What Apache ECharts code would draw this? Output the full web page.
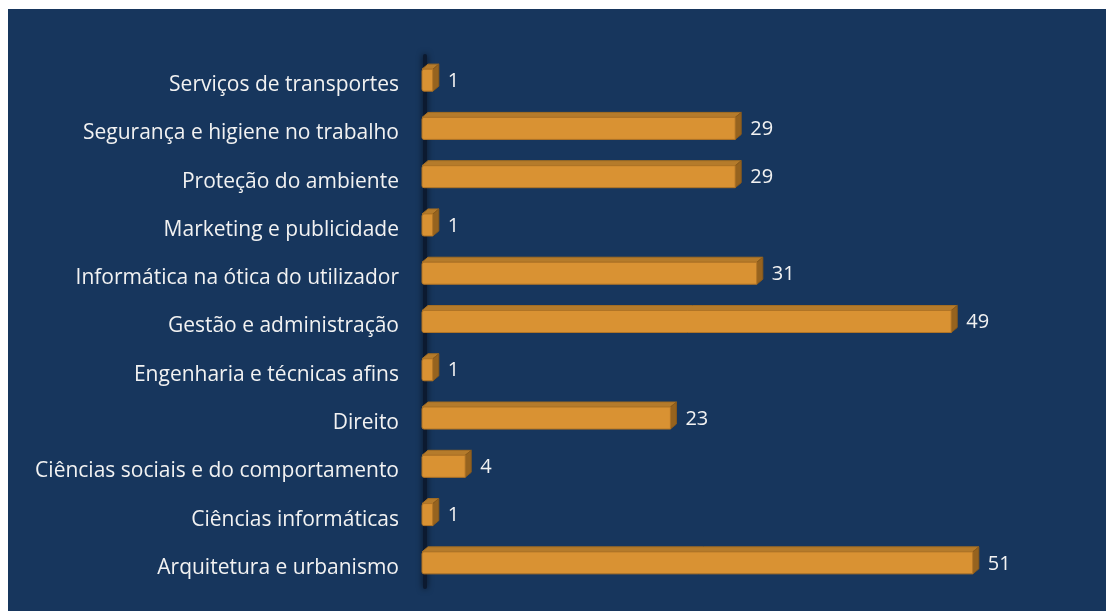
<!DOCTYPE html>
<html>
<head>
<meta charset="utf-8">
<script src="https://cdn.jsdelivr.net/npm/echarts@6/dist/echarts.min.js"></script>
<style>
    html, body { margin: 0; padding: 0; background: #ffffff; }
    #chart { position: absolute; left: 8px; top: 9px; width: 1098px; height: 602px; }
</style>
</head>
<body>
<div id="chart"></div>
<script>
// categories listed bottom to top (category axis starts at the bottom)
const categories = [
    'Arquitetura e urbanismo',
    'Ciências informáticas',
    'Ciências sociais e do comportamento',
    'Direito',
    'Engenharia e técnicas afins',
    'Gestão e administração',
    'Informática na ótica do utilizador',
    'Marketing e publicidade',
    'Proteção do ambiente',
    'Segurança e higiene no trabalho',
    'Serviços de transportes'
]
const counts = [51, 1, 4, 23, 1, 49, 31, 1, 29, 29, 1]

const FONT = '"Open Sans", "Noto Sans", sans-serif'
const depthX = 6
const depthY = 5

const chart = echarts.init(document.getElementById('chart'))

// 3d box: front face, top face and right side
function renderBox(params, api) {
    const v = api.value(0)
    const c = api.value(1)
    const p0 = api.coord([0, c])
    const p1 = api.coord([v, c])
    const h = 22
    const x0 = p0[0]
    const x1 = p1[0]
    const y0 = p0[1] - h / 2
    const y1 = p0[1] + h / 2
    return {
        type: 'group',
        children: [
            {
                type: 'polygon',
                shape: { points: [[x0, y0], [x0 + depthX, y0 - depthY], [x1 + depthX, y0 - depthY], [x1, y0]] },
                style: { fill: '#b57b2b', stroke: '#a36d22', lineWidth: 1 }
            },
            {
                type: 'polygon',
                shape: { points: [[x1, y0], [x1 + depthX, y0 - depthY], [x1 + depthX, y1 - depthY], [x1, y1]] },
                style: { fill: '#96631f', stroke: '#8a5a1b', lineWidth: 1 }
            },
            {
                type: 'rect',
                shape: { x: x0, y: y0, width: x1 - x0, height: h, r: [2, 0, 0, 2] },
                style: { fill: '#d99233', stroke: '#b07426', lineWidth: 1 }
            },
            {
                type: 'text',
                x: x1 + depthX + 9,
                y: p0[1] + 1,
                style: {
                    text: String(v),
                    fill: '#f2f2f2',
                    font: '20px ' + FONT,
                    verticalAlign: 'middle',
                    align: 'left'
                }
            }
        ]
    }
}

const option = {
    backgroundColor: '#17365d',
    animation: false,
    grid: {
        left: 414,
        top: 47,
        width: 648,
        height: 531
    },
    xAxis: {
        type: 'value',
        min: 0,
        max: 60,
        show: false
    },
    yAxis: {
        type: 'category',
        data: categories,
        offset: -3,
        axisLine: {
            show: true,
            lineStyle: {
                color: '#0c1a30',
                width: 4,
                shadowColor: 'rgba(0,0,0,0.7)',
                shadowBlur: 6
            }
        },
        axisTick: { show: false },
        axisLabel: {
            margin: 26,
            formatter: v => '{a|' + v + '}',
            rich: {
                a: {
                    color: '#f2f2f2',
                    fontSize: 21,
                    fontFamily: FONT,
                    padding: [10, 0, 0, 0]
                }
            }
        }
    },
    series: [
        {
            type: 'custom',
            renderItem: renderBox,
            encode: { x: 0, y: 1 },
            data: counts.map((v, i) => [v, i])
        }
    ]
}

chart.setOption(option)
</script>
</body>
</html>
